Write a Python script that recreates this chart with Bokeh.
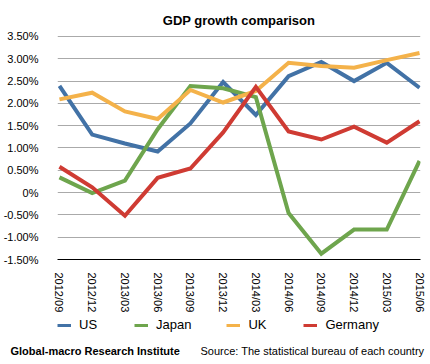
from bokeh.plotting import figure
from bokeh.models import Range1d, FixedTicker, Legend, LegendItem
from bokeh.layouts import column
from bokeh.core.properties import value
from bokeh.embed import file_html
from bokeh.resources import INLINE

quarters = ["2012/09", "2012/12", "2013/03", "2013/06", "2013/09", "2013/12",
            "2014/03", "2014/06", "2014/09", "2014/12", "2015/03", "2015/06"]
us = [2.39, 1.30, 1.10, 0.92, 1.55, 2.48, 1.74, 2.61, 2.93, 2.50, 2.91, 2.35]
japan = [0.34, -0.01, 0.27, 1.42, 2.39, 2.34, 2.14, -0.46, -1.37, -0.83, -0.83, 0.71]
uk = [2.09, 2.24, 1.82, 1.65, 2.30, 2.02, 2.28, 2.91, 2.84, 2.80, 2.97, 3.13]
germany = [0.58, 0.12, -0.52, 0.33, 0.54, 1.35, 2.37, 1.37, 1.19, 1.48, 1.12, 1.60]
y_ticks = [-1.5, -1.0, -0.5, 0.0, 0.5, 1.0, 1.5, 2.0, 2.5, 3.0, 3.5]
y_tick_labels = ["-1.50%", "-1.00%", "-0.50%", "0%", "0.50%", "1.00%", "1.50%",
                 "2.00%", "2.50%", "3.00%", "3.50%"]
series_names = ["US", "Japan", "UK", "Germany"]
colors = ["#4272a6", "#6ea54d", "#f4b24a", "#cf3b33"]
footer_left = "Global-macro Research Institute"
footer_right = "Source: The statistical bureau of each country"

FONT = "Liberation Sans"
xs = list(range(len(quarters)))

p = figure(width=430, height=315, output_backend="svg", toolbar_location=None,
           x_range=Range1d(-0.06, len(quarters) - 1 + 0.03),
           y_range=Range1d(-1.5, 3.522),
           min_border_left=54, min_border_right=10, min_border_top=35,
           min_border_bottom=54)
p.frame_align = False
p.outline_line_color = None
p.background_fill_color = "white"
p.border_fill_color = "white"

p.title.text = "GDP growth comparison"
p.title.text_font = FONT
p.title.text_font_size = "13px"
p.title.text_font_style = "bold"
p.title.align = "center"
p.title.text_color = "black"
p.title.standoff = 15

p.xgrid.grid_line_color = None
p.ygrid.grid_line_color = "#aaaaaa"
p.ygrid.grid_line_width = 1
p.ygrid.ticker = FixedTicker(ticks=y_ticks)

p.yaxis.ticker = FixedTicker(ticks=y_ticks)
p.yaxis.major_label_overrides = {t: l for t, l in zip(y_ticks, y_tick_labels)}
p.yaxis.axis_line_color = None
p.yaxis.major_tick_line_color = None
p.yaxis.minor_tick_line_color = None
p.yaxis.major_label_text_font = FONT
p.yaxis.major_label_text_font_size = "11px"
p.yaxis.major_label_text_color = "black"
p.yaxis.major_label_standoff = 13

p.xaxis.ticker = FixedTicker(ticks=xs)
p.xaxis.major_label_overrides = {i: q for i, q in enumerate(quarters)}
p.xaxis.major_label_orientation = "vertical"
p.xaxis.axis_line_color = "black"
p.xaxis.axis_line_width = 1
p.xaxis.major_tick_line_color = None
p.xaxis.minor_tick_line_color = None
p.xaxis.major_label_text_font = FONT
p.xaxis.major_label_text_font_size = "11px"
p.xaxis.major_label_text_color = "black"
p.xaxis.major_label_standoff = 7

data = [us, japan, uk, germany]
for name, vals, c in zip(series_names, data, colors):
    p.line(xs, vals, line_color=c, line_width=4, line_join="miter")

# legend + footer panel
p2 = figure(width=430, height=49, output_backend="svg", toolbar_location=None,
            x_range=Range1d(0, 430), y_range=Range1d(49, 0),
            min_border=0, min_border_left=0, min_border_right=0,
            min_border_top=0, min_border_bottom=0)
p2.frame_align = False
p2.axis.visible = False
p2.grid.visible = False
p2.outline_line_color = None
p2.background_fill_color = "white"
p2.border_fill_color = "white"

items = []
for name, c in zip(series_names, colors):
    r = p2.line([-100, -90], [-100, -100], line_color=c, line_width=3)
    items.append(LegendItem(label=name, renderers=[r]))
legend = Legend(items=items, orientation="horizontal", location=(57, 32),
                border_line_color=None, background_fill_alpha=0,
                padding=0, margin=0, spacing=35, glyph_width=14, glyph_height=14,
                label_standoff=8, label_text_font=FONT, label_text_font_size="13px",
                label_text_color="black")
p2.add_layout(legend)

p2.text(x=[10], y=[35], text=[footer_left], text_font=value(FONT),
        text_font_size="11px", text_font_style="bold", text_baseline="middle",
        text_color="black")
p2.text(x=[200], y=[35], text=[footer_right], text_font=value(FONT),
        text_font_size="11px", text_baseline="middle", text_color="black")

open("out.html", "w").write(file_html(column(p, p2, spacing=0), INLINE))
